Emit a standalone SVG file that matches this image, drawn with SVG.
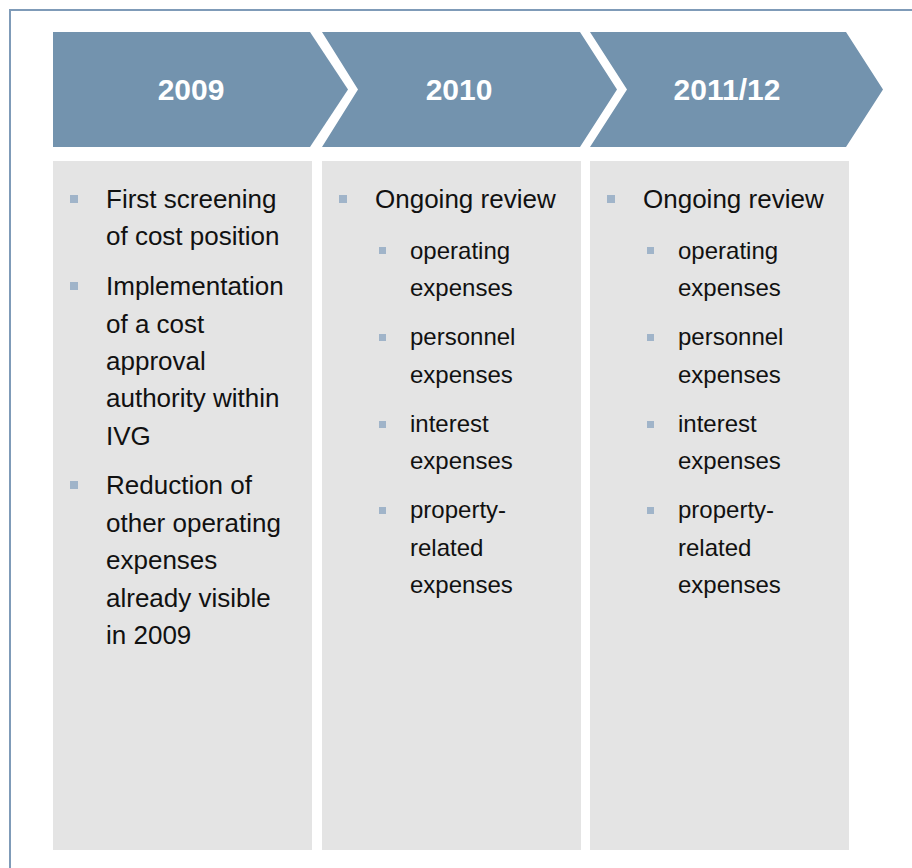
<svg xmlns="http://www.w3.org/2000/svg" width="912" height="868" viewBox="0 0 912 868">
<style>
.chev{fill:#7393ae}
.panel{fill:#e4e4e4}
.hd{font-family:"Liberation Sans",Arial,sans-serif;font-weight:bold;font-size:30px;fill:#ffffff;text-anchor:middle}
.t{font-family:"Liberation Sans",Arial,sans-serif;font-size:26px;fill:#111111}
.s{font-family:"Liberation Sans",Arial,sans-serif;font-size:24px;fill:#111111}
.b{fill:#a0b4c9}
</style>
<rect x="10" y="10" width="930" height="900" fill="#ffffff" stroke="#7f9bb8" stroke-width="2"/>
<g id="col2009">
<path class="chev" d="M53,32 L310,32 L348,89.5 L310,147 L53,147 Z"/>
<text class="hd" x="191" y="100">2009</text>
<rect class="panel" x="53" y="161" width="259" height="689"/>
<rect class="b" x="70" y="195" width="8" height="8"/>
<text class="t" x="106" y="208">First screening</text>
<text class="t" x="106" y="245.4">of cost position</text>
<rect class="b" x="70" y="282" width="8" height="8"/>
<text class="t" x="106" y="295.1">Implementation</text>
<text class="t" x="106" y="332.5">of a cost</text>
<text class="t" x="106" y="369.9">approval</text>
<text class="t" x="106" y="407.3">authority within</text>
<text class="t" x="106" y="444.7">IVG</text>
<rect class="b" x="70" y="481" width="8" height="8"/>
<text class="t" x="106" y="494.4">Reduction of</text>
<text class="t" x="106" y="531.8">other operating</text>
<text class="t" x="106" y="569.2">expenses</text>
<text class="t" x="106" y="606.6">already visible</text>
<text class="t" x="106" y="644">in 2009</text>
</g>
<g id="col2010">
<path class="chev" d="M322,32 L580,32 L617,89.5 L580,147 L322,147 L358,89.5 Z"/>
<text class="hd" x="459" y="100">2010</text>
<rect class="panel" x="322" y="161" width="259" height="689"/>
<rect class="b" x="339" y="195" width="8" height="8"/>
<text class="t" x="375" y="208">Ongoing review</text>
<rect class="b" x="379" y="247" width="7" height="7"/>
<text class="s" x="410" y="258.5">operating</text>
<text class="s" x="410" y="295.9">expenses</text>
<rect class="b" x="379" y="334" width="7" height="7"/>
<text class="s" x="410" y="345.1">personnel</text>
<text class="s" x="410" y="382.5">expenses</text>
<rect class="b" x="379" y="421" width="7" height="7"/>
<text class="s" x="410" y="431.7">interest</text>
<text class="s" x="410" y="469.1">expenses</text>
<rect class="b" x="379" y="507" width="7" height="7"/>
<text class="s" x="410" y="518.3">property-</text>
<text class="s" x="410" y="555.7">related</text>
<text class="s" x="410" y="593.1">expenses</text>
</g>
<g id="col2011">
<path class="chev" d="M590,32 L846,32 L883,89.5 L846,147 L590,147 L627,89.5 Z"/>
<text class="hd" x="727" y="100">2011/12</text>
<rect class="panel" x="590" y="161" width="259" height="689"/>
<rect class="b" x="607" y="195" width="8" height="8"/>
<text class="t" x="643" y="208">Ongoing review</text>
<rect class="b" x="647" y="247" width="7" height="7"/>
<text class="s" x="678" y="258.5">operating</text>
<text class="s" x="678" y="295.9">expenses</text>
<rect class="b" x="647" y="334" width="7" height="7"/>
<text class="s" x="678" y="345.1">personnel</text>
<text class="s" x="678" y="382.5">expenses</text>
<rect class="b" x="647" y="421" width="7" height="7"/>
<text class="s" x="678" y="431.7">interest</text>
<text class="s" x="678" y="469.1">expenses</text>
<rect class="b" x="647" y="507" width="7" height="7"/>
<text class="s" x="678" y="518.3">property-</text>
<text class="s" x="678" y="555.7">related</text>
<text class="s" x="678" y="593.1">expenses</text>
</g>
<g id="connectors"></g>
</svg>
